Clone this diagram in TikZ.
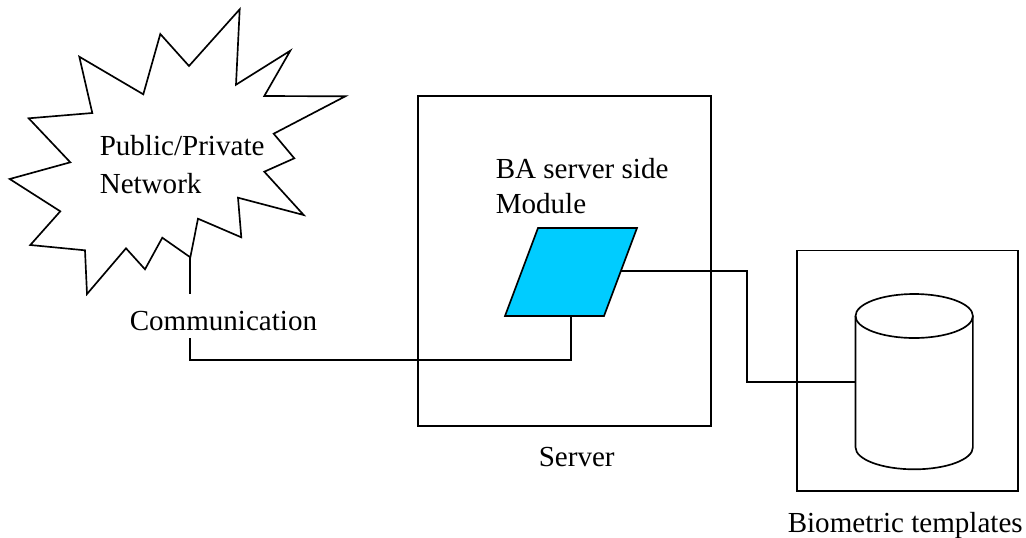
\documentclass[tikz,border=0pt]{standalone}
\usepackage{fontspec}
\setmainfont{Liberation Serif}
\definecolor{modulecyan}{RGB}{0,204,255}
\begin{document}
\begin{tikzpicture}[x=0.75pt,y=-0.75pt,line join=miter,miter limit=10,
  label text/.style={anchor=base west,inner sep=0pt,font=\fontsize{21.8pt}{26pt}\selectfont,text=black},
  box/.style={draw=black,fill=none,inner sep=0pt,outer sep=0pt,line width=1.25pt},
  wire/.style={draw=black,line width=1.25pt},
  outline/.style={draw=black,line width=1.25pt}]
\useasboundingbox (0,0) rectangle (1026,537);
% network star
\draw[outline] (239.7,9.3) -- (236,84.7) -- (290.3,50.7) -- (264.3,96) -- (345.3,96.3) -- (273.7,133.7)
  -- (294.3,158.3) -- (264.3,171.7) -- (303.7,215) -- (238,197.7) -- (241.3,237.3) -- (198,218.7)
  -- (190.3,257.3) -- (162.3,237.7) -- (145,269.3) -- (126,248.3) -- (87,294) -- (85,250.3)
  -- (30.3,245) -- (60.3,211.3) -- (9.7,179) -- (70.3,162.3) -- (28.7,118.3) -- (92.3,113)
  -- (79.3,56.7) -- (143.3,94.3) -- (160.3,34) -- (189,66) -- cycle;
\coordinate (starfoot) at (190.3,257.3);
\coordinate (commtop) at (190.3,294);
\coordinate (commbot) at (190.3,338);
% server box
\node[box,minimum width=293*0.75pt,minimum height=330*0.75pt,anchor=north west] (server) at (418,96) {};
% module parallelogram
\draw[outline,fill=modulecyan] (538,228) -- (637,228) -- (604,316) -- (505,316) -- cycle;
\coordinate (modbottom) at (571,316);
\coordinate (modright) at (620.5,271);
\coordinate (runbottom) at (571,360);
% template box
\node[box,minimum width=221*0.75pt,minimum height=240.5*0.75pt,anchor=north west] (store) at (797,250.5) {};
% cylinder
\draw[outline] (914.2,316) ellipse[x radius=58.7,y radius=22];
\draw[outline] (855.5,316) -- (855.5,447.3) arc[start angle=180,end angle=0,x radius=58.7,y radius=22] -- (972.9,316);
\coordinate (cylleft) at (855.5,382);
% connectors
\draw[wire] (starfoot) -- (commtop);
\draw[wire] (commbot) |- (runbottom) -- (modbottom);
\draw[wire] (modright) -- (747,271) -- (747,382) -- (cylleft);
% labels
\node[label text] (pub) at (99.5,155.5) {Public/Private};
\node[label text] (net) at (99.5,193.5) {Network};
\node[label text] (ba) at (495.5,178) {BA server side};
\node[label text] (mod) at (495.5,213) {Module};
\node[label text] (comm) at (129.5,330) {Communication};
\node[label text] (srv) at (538.5,466) {Server};
\node[label text] (bio) at (787.5,532) {Biometric templates};
\end{tikzpicture}
\end{document}
